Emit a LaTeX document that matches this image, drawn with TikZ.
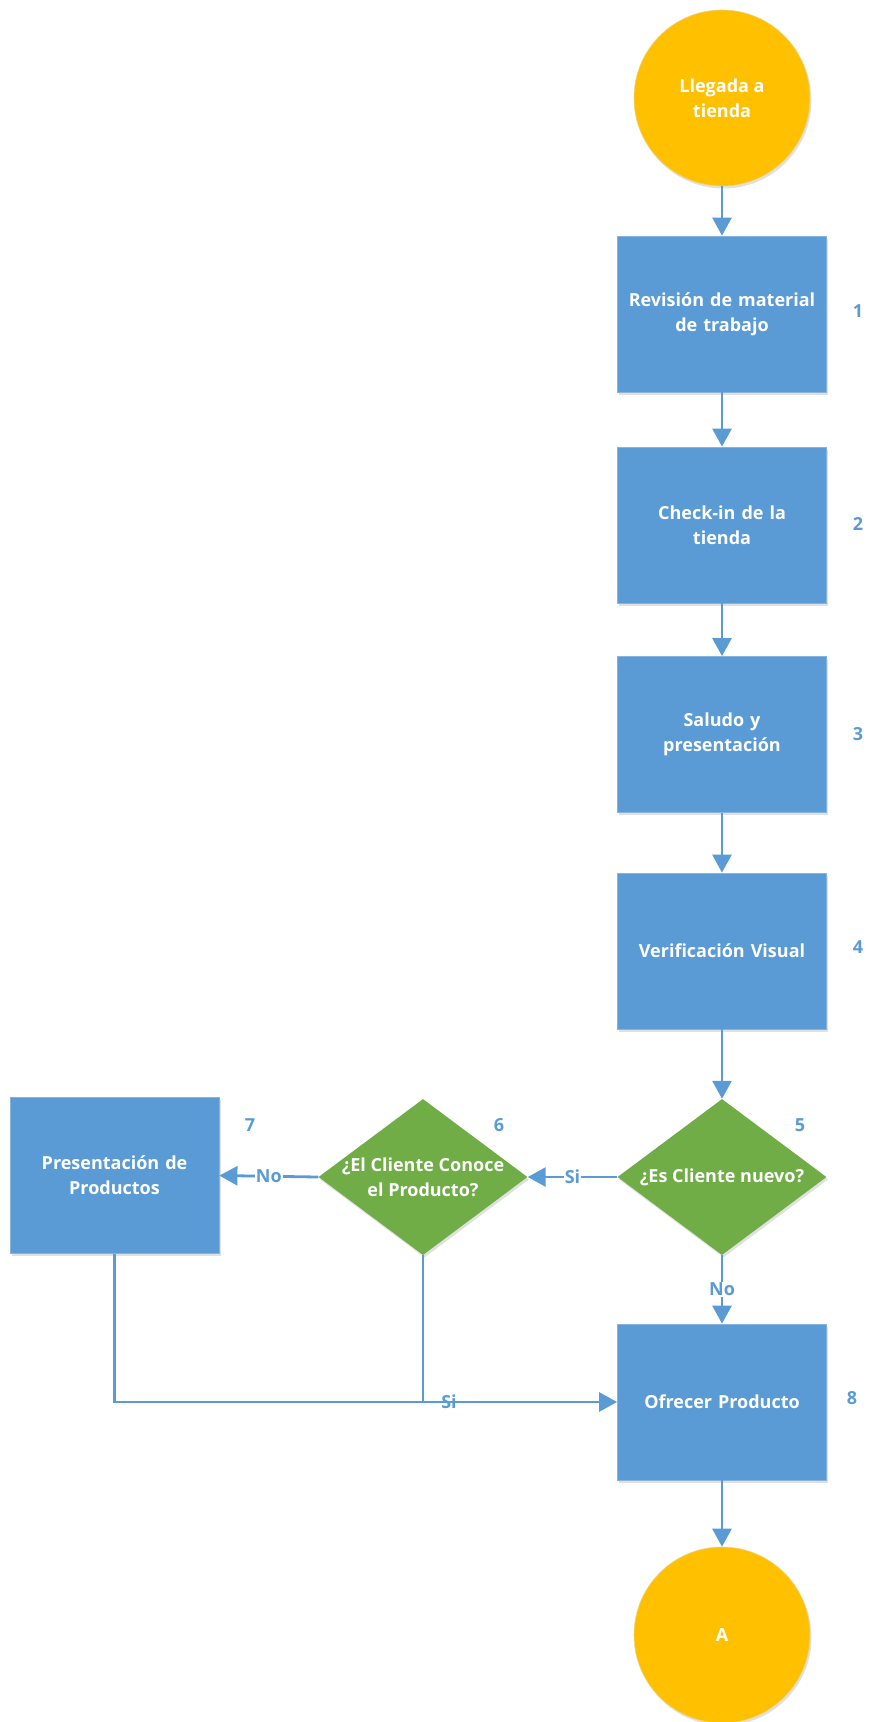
\documentclass[tikz,border=0pt]{standalone}
\usepackage{fontspec}
\setmainfont{Open Sans}
\usetikzlibrary{shapes.geometric,arrows.meta,shadows}
\definecolor{cblue}{HTML}{5B9BD5}
\definecolor{corange}{HTML}{FFC000}
\definecolor{cgreen}{HTML}{70AD47}
\begin{document}
\begin{tikzpicture}[x=1pt,y=-1pt,
  txt/.style={font=\fontsize{18}{25}\selectfont\bfseries, text=white, align=center},
  shad/.style={drop shadow={shadow xshift=1.5pt, shadow yshift=-2.5pt, opacity=0.12, fill=black}},
  proc/.style={rectangle, fill=cblue, draw=cblue!75!white, line width=0.8pt,
    minimum width=209pt, minimum height=156pt, inner sep=0pt, txt, text width=205pt, shad},
  term/.style={circle, fill=corange, draw=corange!80!cblue!60!white, line width=0.6pt,
    minimum size=176pt, inner sep=0pt, txt, shad},
  dec/.style={diamond, fill=cgreen, minimum width=209pt, minimum height=156pt, inner sep=0pt, shad},
  num/.style={font=\fontsize{18}{22}\selectfont\bfseries, text=cblue},
  lbl/.style={font=\fontsize{18}{22}\selectfont\bfseries, text=cblue, fill=white, inner sep=1pt},
  lblnf/.style={font=\fontsize{18}{22}\selectfont\bfseries, text=cblue, inner sep=1pt},
  arr/.style={draw=cblue, line width=2.8pt, -{Triangle[length=18pt,width=19pt]}},
  ln/.style={draw=cblue, line width=2.8pt}
]
\useasboundingbox (0,0) rectangle (869,1722);

\node[term] (start) at (722,98) {Llegada a\\tienda};
\node[proc] (p1) at (722,314) {Revisión de material\\de trabajo};
\node[proc] (p2) at (722,525) {Check-in de la\\tienda};
\node[proc] (p3) at (722,734.5) {Saludo y\\presentación};
\node[proc] (p4) at (722,951) {Verificación Visual};
\node[dec, label={[txt]center:{¿Es Cliente nuevo?}}] (d5) at (722,1177) {};
\node[dec, label={[txt]center:{¿El Cliente Conoce\\el Producto?}}] (d6) at (423,1177) {};
\node[proc, text width=200pt] (p7) at (114.5,1175.5) {Presentación de\\Productos};
\node[proc] (p8) at (722,1402) {Ofrecer Producto};
\node[term] (endA) at (722,1635) {A};

\node[num] (n1) at (858,311) {1};
\node[num] (n2) at (858,524) {2};
\node[num] (n3) at (858,734) {3};
\node[num] (n4) at (858,947) {4};
\node[num] (n5) at (800,1125) {5};
\node[num] (n6) at (499,1125) {6};
\node[num] (n7) at (250,1125) {7};
\node[num] (n8) at (852,1398) {8};

\draw[arr] (start) -- (p1);
\draw[arr] (p1) -- (p2);
\draw[arr] (p2) -- (p3);
\draw[arr] (p3) -- (p4);
\draw[arr] (p4) -- (d5);
\draw[arr] (d5.west) -- node[lbl] (si1) {Si} (d6.east);
\draw[arr] (d6.west) -- node[lbl] (no1) {No} (p7.east);
\draw[arr] (d5.south) -- node[lbl] (no2) {No} (p8.north);
\draw[arr] (p8) -- (endA);
\coordinate (j7) at (p7.south |- p8.west);
\coordinate (j6) at (d6.south |- p8.west);
\draw[ln] (p7.south) -- (j7) -- (j6);
\draw[arr] (d6.south) -- (j6) -- (p8.west);
\node[lblnf] (si2) at (449,1402) {Si};
\end{tikzpicture}
\end{document}
